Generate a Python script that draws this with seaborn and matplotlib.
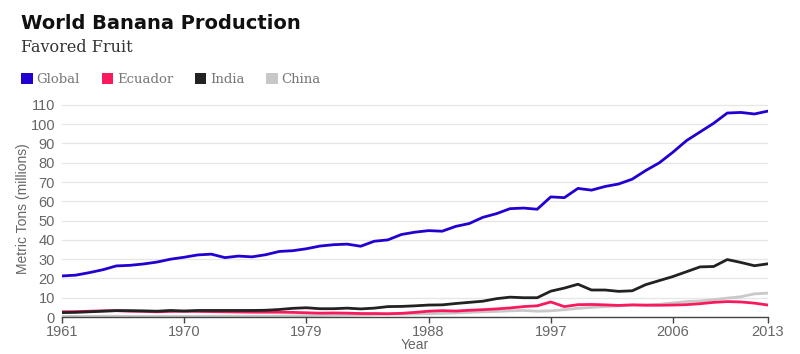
import matplotlib
matplotlib.use("Agg")
import matplotlib.pyplot as plt
from matplotlib.patches import Patch
import pandas as pd
import seaborn as sns

years = list(range(1961, 2014))

global_prod = [21.3, 21.7, 23.0, 24.5, 26.5, 26.8, 27.5, 28.5, 30.0, 31.0,
               32.2, 32.6, 30.8, 31.6, 31.2, 32.3, 34.0, 34.4, 35.4, 36.8,
               37.5, 37.8, 36.7, 39.3, 40.0, 42.8, 44.0, 44.8, 44.5, 47.0,
               48.5, 51.7, 53.6, 56.2, 56.5, 55.9, 62.3, 61.9, 66.7, 65.8,
               67.7, 69.0, 71.5, 76.0, 80.0, 85.5, 91.5, 96.0, 100.5, 105.8,
               106.1, 105.3, 106.8]
ecuador_prod = [2.7, 2.8, 3.0, 3.2, 3.3, 3.0, 2.9, 2.7, 2.9, 3.0,
                2.9, 2.8, 2.7, 2.6, 2.5, 2.5, 2.5, 2.4, 2.2, 2.0,
                2.1, 2.0, 1.8, 1.8, 1.7, 1.9, 2.4, 3.0, 3.3, 3.1,
                3.5, 3.8, 4.2, 4.7, 5.4, 5.8, 7.8, 5.4, 6.4, 6.5,
                6.3, 6.0, 6.3, 6.1, 6.1, 6.2, 6.4, 6.9, 7.6, 8.0,
                7.8, 7.2, 6.2]
india_prod = [2.3, 2.4, 2.7, 3.0, 3.3, 3.3, 3.2, 3.0, 3.4, 3.1,
              3.4, 3.4, 3.4, 3.4, 3.4, 3.5, 3.9, 4.5, 4.8, 4.3,
              4.3, 4.6, 4.2, 4.6, 5.4, 5.5, 5.8, 6.2, 6.3, 7.0,
              7.6, 8.2, 9.5, 10.3, 10.0, 10.0, 13.4, 15.0, 17.0, 14.0,
              14.0, 13.3, 13.6, 16.8, 18.9, 21.0, 23.5, 26.0, 26.2, 29.8,
              28.3, 26.6, 27.6]
china_prod = [0.3, 0.3, 0.3, 0.4, 0.4, 0.3, 0.3, 0.3, 0.3, 0.3,
              0.3, 0.4, 0.4, 0.4, 0.4, 0.4, 0.5, 0.6, 0.7, 0.8,
              0.9, 1.0, 1.1, 1.3, 1.5, 1.5, 1.6, 1.7, 1.9, 2.1,
              2.4, 2.7, 2.9, 3.2, 3.4, 3.0, 3.2, 3.8, 4.5, 5.0,
              5.4, 5.8, 6.1, 6.3, 6.6, 7.3, 8.0, 8.3, 9.0, 9.8,
              10.5, 12.0, 12.4]

countries = ["Global", "Ecuador", "India", "China"]
colors = {"Global": "#2300d2", "Ecuador": "#f81a5d", "India": "#222222", "China": "#c8c8c8"}
x_ticks = [1961, 1970, 1979, 1988, 1997, 2006, 2013]

df = pd.DataFrame({
    "Year": years * 4,
    "Tons": global_prod + ecuador_prod + india_prod + china_prod,
    "Country": sum([[c] * len(years) for c in countries], []),
})

sns.set_theme(style="white")
plt.rcParams["font.family"] = ["Liberation Sans", "DejaVu Sans"]

fig = plt.figure(figsize=(8, 3.54), dpi=100)
ax = fig.add_axes([0.0775, 0.1045, 0.8825, 0.61])

# draw back to front
for c in ["China", "Ecuador", "India", "Global"]:
    sns.lineplot(data=df[df["Country"] == c], x="Year", y="Tons", color=colors[c],
                 linewidth=2.0, ax=ax, legend=False)

ax.set_xlim(1961, 2013)
ax.set_ylim(0, 112)
ax.set_xticks(x_ticks)
ax.set_yticks(range(0, 111, 10))
ax.grid(axis="y", color="#e6e6e6", linewidth=0.9)
ax.set_axisbelow(True)
for s in ["left", "right", "top"]:
    ax.spines[s].set_visible(False)
ax.spines["bottom"].set_color("#444444")
ax.spines["bottom"].set_linewidth(1.0)
ax.tick_params(axis="x", length=4, width=1, color="#444444", labelsize=10.5,
               labelcolor="#666666", pad=2, bottom=True)
ax.tick_params(axis="y", length=0, labelsize=10.5, labelcolor="#666666", pad=5)
ax.set_xlabel("Year", fontsize=10, color="#666666", labelpad=-1)
ax.set_ylabel("Metric Tons (millions)", fontsize=10, color="#666666", labelpad=0)

fig.text(0.026, 0.918, "World Banana Production", fontsize=14, fontweight="bold",
         color="#111111", family=["DejaVu Sans"])
fig.text(0.026, 0.852, "Favored Fruit", fontsize=11.5, color="#333333",
         family=["DejaVu Serif"])

handles = [Patch(facecolor=colors[c], edgecolor="none") for c in countries]
leg = fig.legend(handles, countries, loc="upper left", bbox_to_anchor=(0.012, 0.827),
                 ncol=4, frameon=False, handlelength=0.85, handleheight=0.85,
                 handletextpad=0.3, columnspacing=1.65,
                 prop={"family": "DejaVu Serif", "size": 9.5})
for t in leg.get_texts():
    t.set_color("#777777")

fig.savefig("out.png", dpi=100, facecolor="white")
